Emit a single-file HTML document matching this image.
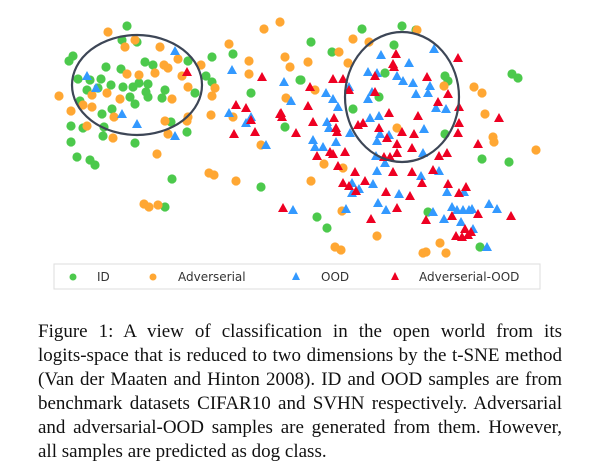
<!DOCTYPE html>
<html><head><meta charset="utf-8"><style>
html,body{margin:0;padding:0;background:#fff;width:598px;height:471px;overflow:hidden}
#c{position:absolute;left:0;top:0}
.cap{position:absolute;left:38px;width:524px;font-family:"Liberation Serif",serif;font-size:19px;line-height:24px;color:#111;}
.ln{display:block;text-align:justify;text-align-last:justify;height:24px;white-space:nowrap}
.ln.last{text-align-last:left}
</style></head><body>
<svg id="c" width="598" height="471">
<g id="plot"></g>
<ellipse cx="137" cy="85" rx="65" ry="50" fill="none" stroke="#3d4656" stroke-width="2.2"/>
<ellipse cx="402" cy="97" rx="57" ry="65" fill="none" stroke="#3d4656" stroke-width="2.2"/>
<g>
<rect x="54" y="264" width="486" height="25" fill="#fff" stroke="#ddd" stroke-width="1"/>
<circle cx="73" cy="277" r="3.5" fill="#4cc94c"/>
<text x="97" y="281" font-family="DejaVu Sans,sans-serif" font-size="12" fill="#333">ID</text>
<circle cx="153" cy="277" r="3.5" fill="#ffa733"/>
<text x="178" y="281" font-family="DejaVu Sans,sans-serif" font-size="12" fill="#333">Adverserial</text>
<path d="M296 272 L300 280 L292 280 Z" fill="#3399ff"/>
<text x="321" y="281" font-family="DejaVu Sans,sans-serif" font-size="12" fill="#333">OOD</text>
<path d="M395 272 L399 280 L391 280 Z" fill="#ee0022"/>
<text x="419" y="281" font-family="DejaVu Sans,sans-serif" font-size="12" fill="#333">Adverserial-OOD</text>
</g>
</svg>
<div class="cap" style="top:320px">
<span class="ln">Figure 1: A view of classification in the open world from its</span>
<span class="ln">logits-space that is reduced to two dimensions by the t-SNE method</span>
<span class="ln">(Van der Maaten and Hinton 2008). ID and OOD samples are from</span>
<span class="ln">benchmark datasets CIFAR10 and SVHN respectively. Adversarial</span>
<span class="ln">and adversarial-OOD samples are generated from them. However,</span>
<span class="ln last">all samples are predicted as dog class.</span>
</div>
<script>
const idX=[127,122,137,73,69,106,121,145,153,188,212,233,78,90,101,87,98,111,123,133,139,148,146,130,135,148,162,165,80,112,102,195,206,212,71,83,104,103,171,187,71,135,77,90,95,172,251,285,261,165,300,311,332,362,402,416,394,301,385,379,353,445,448,445,512,518,482,509,317,327,428,480];
const idY=[26,40,42,56,61,67,69,62,65,61,57,54,79,80,79,90,88,85,87,87,83,84,92,97,104,97,98,90,101,109,114,93,76,82,126,128,127,136,122,132,142,143,157,160,165,179,93,127,187,207,80,42,52,29,26,30,45,80,73,97,109,76,81,134,74,78,159,162,217,228,212,247];
const advX=[108,135,125,160,178,164,168,155,127,139,182,201,188,215,212,59,107,92,120,172,83,92,71,114,188,187,165,168,211,87,113,157,229,249,249,264,280,285,290,286,233,261,209,214,236,144,149,158,308,339,353,369,348,315,417,444,474,482,485,493,494,536,397,324,343,311,342,377,335,341,440,423,426,446];
const advY=[32,40,47,47,59,65,68,73,74,75,76,65,87,88,96,96,93,95,99,99,105,107,111,117,117,121,121,134,115,126,138,154,44,61,74,29,22,57,67,98,117,145,173,175,181,204,207,205,62,52,39,42,63,90,30,86,87,93,114,137,142,150,128,164,168,181,211,236,247,250,243,253,252,253];
const oodX=[175,87,96,122,137,175,232,284,291,229,246,251,266,293,381,434,409,368,377,397,403,413,430,428,416,349,326,333,338,368,372,436,446,370,379,327,329,350,424,380,389,377,313,315,323,336,376,385,423,377,373,421,439,352,359,352,399,447,464,378,386,346,433,444,452,457,463,469,472,489,497,461,473,487];
const oodY=[51,76,88,114,124,136,70,82,101,113,123,117,145,210,55,49,63,72,73,76,81,83,86,93,94,87,93,99,107,99,92,108,109,118,116,122,128,133,129,134,135,141,140,147,147,142,156,163,153,171,184,176,171,183,189,193,194,192,192,203,210,209,212,219,207,210,210,210,209,204,209,222,229,247];
const aoodX=[187,262,236,246,251,234,255,281,282,296,283,280,396,393,394,458,333,343,310,375,427,349,375,448,438,459,308,334,313,358,363,389,418,459,458,499,336,337,379,402,414,387,397,397,412,384,390,345,330,333,317,338,355,393,412,433,439,447,478,365,343,349,356,386,410,422,448,466,459,397,371,426,452,478,511,465,456,462,468,471];
const aoodY=[72,77,105,108,120,134,132,113,117,133,208,114,54,64,67,58,79,79,87,76,77,90,92,94,102,107,106,118,122,125,123,113,116,123,133,118,128,132,128,132,134,138,144,153,148,157,157,152,152,154,156,166,172,172,172,170,156,153,144,181,183,186,191,192,196,183,184,187,193,208,219,220,216,214,216,229,236,237,235,232];

const sx=d=>0+d*1; // x axis (t-SNE dim 1 → px)
const sy=d=>0+d*1; // y axis (t-SNE dim 2 → px)
const NS='http://www.w3.org/2000/svg';
const plot=document.getElementById('plot');
function circles(xs,ys,col,name){
  xs.forEach((v,i)=>{
    const c=document.createElementNS(NS,'circle');
    c.setAttribute('cx',sx(v));c.setAttribute('cy',sy(ys[i]));c.setAttribute('r',4.6);c.setAttribute('fill',col);
    
    
    plot.appendChild(c);
  });
}
function tris(xs,ys,col,name){
  xs.forEach((v,i)=>{
    const x=sx(v),y=sy(ys[i]);
    const p=document.createElementNS(NS,'path');
    p.setAttribute('d',`M${x} ${y-5} L${x+5} ${y+4} L${x-5} ${y+4} Z`);p.setAttribute('fill',col);
    
    
    plot.appendChild(p);
  });
}
circles(idX,idY,'#4cc94c','id-point');
circles(advX,advY,'#ffa733','adversarial-point');
tris(oodX,oodY,'#3399ff','ood-point');
tris(aoodX,aoodY,'#ee0022','adversarial-ood-point');
</script>
</body></html>
